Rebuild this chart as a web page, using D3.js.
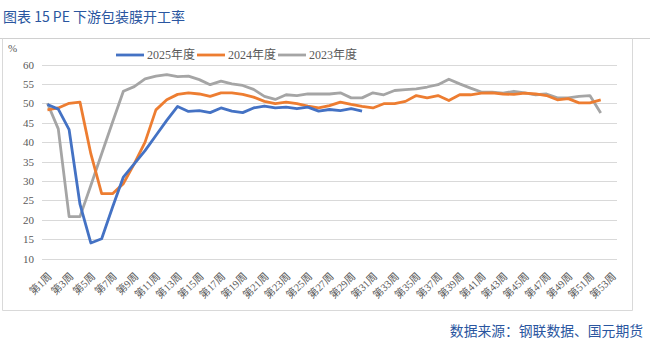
<!DOCTYPE html>
<html><head><meta charset="utf-8">
<script src="https://cdn.jsdelivr.net/npm/d3@7"></script>
<style>
body{margin:0;background:#fff;}
svg{display:block;}
</style></head>
<body>
<svg id="chart" width="650" height="342"></svg>
<script>
const weeks = d3.range(1, 54).map(i => "第" + i + "周");
const seriesNames = ["2025年度", "2024年度", "2023年度"];
const colors = ["#4472C4", "#ED7D31", "#A5A5A5"];
const yTicks = [10, 15, 20, 25, 30, 35, 40, 45, 50, 55, 60];

const v2025 = [49.7, 48.5, 43.2, 24.0, 14.0, 15.1, 23.2, 31.0, 34.4, 37.8, 41.7, 45.6, 49.2, 47.9, 48.1,
  47.6, 48.8, 48.0, 47.6, 48.8, 49.3, 48.8, 49.0, 48.6, 49.0, 48.0, 48.4, 48.1, 48.6, 48.0];
const v2024 = [48.3, 48.8, 50.0, 50.3, 37.0, 26.7, 26.7, 29.3, 34.4, 40.0, 48.3, 50.9, 52.3, 52.7, 52.4,
  51.8, 52.7, 52.7, 52.3, 51.6, 50.5, 49.9, 50.3, 49.9, 49.3, 48.8, 49.4, 50.3, 49.7, 49.2,
  48.8, 49.9, 49.9, 50.5, 52.0, 51.4, 52.0, 50.7, 52.2, 52.2, 52.6, 52.7, 52.4, 52.3, 52.6,
  52.4, 52.0, 50.9, 51.2, 50.1, 50.1, 50.9];
const v2023 = [50.0, 43.4, 20.8, 20.8, 28.8, 37.0, 45.1, 53.1, 54.3, 56.3, 57.0, 57.4, 56.9, 57.0, 56.1,
  54.8, 55.7, 55.0, 54.6, 53.6, 51.8, 51.0, 52.2, 52.0, 52.4, 52.4, 52.4, 52.7, 51.4, 51.4,
  52.7, 52.2, 53.3, 53.5, 53.7, 54.2, 54.8, 56.2, 55.0, 53.9, 52.9, 52.9, 52.6, 53.1, 52.7,
  52.2, 52.4, 51.4, 51.4, 51.8, 52.0, 47.5];
const allSeries = [v2025, v2024, v2023];

const svg = d3.select("#chart");
const serif = "'Times New Roman','Liberation Serif','Noto Sans CJK SC',serif";

// title
svg.append("text").attr("x", 3).attr("y", 22).attr("fill", "#2A56A0")
  .style("font-family", "'Noto Sans CJK SC',sans-serif").style("font-size", "14px")
  .text("图表 15  PE 下游包装膜开工率");
svg.append("line").attr("x1", 0).attr("x2", 650).attr("y1", 38.5).attr("y2", 38.5)
  .attr("stroke", "#d0d0d0").attr("stroke-width", 1);
// frame
svg.append("path").attr("d", "M2.5,38.5 V310.5 H632.5 V38.5")
  .attr("fill", "none").attr("stroke", "#d9d9d9").attr("stroke-width", 1);

const x = d3.scaleBand().domain(weeks).range([42, 617]);
const y = d3.scaleLinear().domain([10, 60]).range([258.5, 64.5]);

// grid
svg.append("g").selectAll("line").data(yTicks).join("line")
  .attr("x1", 42).attr("x2", 617)
  .attr("y1", d => Math.round(y(d)) + 0.5).attr("y2", d => Math.round(y(d)) + 0.5)
  .attr("stroke", "#d9d9d9").attr("stroke-width", 1);

// y axis labels
const yAxis = d3.axisLeft(y).tickValues(yTicks).tickSize(0).tickPadding(0);
const gy = svg.append("g").attr("transform", "translate(34,0)").call(yAxis);
gy.select(".domain").remove();
gy.selectAll("text").attr("fill", "#595959").style("font-family", serif).style("font-size", "11px");
svg.append("text").attr("x", 8).attr("y", 52).attr("fill", "#595959")
  .style("font-family", serif).style("font-size", "11px").text("%");

// x axis labels
const xAxis = d3.axisBottom(x).tickValues(weeks.filter((d, i) => i % 2 === 0)).tickSize(0).tickPadding(0);
const gx = svg.append("g").attr("transform", "translate(0,258)").call(xAxis);
gx.select(".domain").remove();
gx.selectAll("text")
  .attr("text-anchor", "end").attr("dy", null)
  .attr("transform", "translate(5,19) rotate(-45)")
  .attr("fill", "#595959").style("font-family", serif).style("font-size", "10.5px");

// lines
const line = d3.line().x((d, i) => x(weeks[i]) + x.bandwidth() / 2).y(d => y(d));
[2, 1, 0].forEach(k => {
  svg.append("path").datum(allSeries[k]).attr("d", line)
    .attr("fill", "none").attr("stroke", colors[k]).attr("stroke-width", 2.8)
    .attr("stroke-linejoin", "round");
});

// legend
const legendX = [116, 197, 278];
const lg = svg.append("g");
seriesNames.forEach((n, k) => {
  lg.append("line").attr("x1", legendX[k]).attr("x2", legendX[k] + 28)
    .attr("y1", 55).attr("y2", 55).attr("stroke", colors[k]).attr("stroke-width", 2.8);
  lg.append("text").attr("x", legendX[k] + 31).attr("y", 59).attr("fill", "#595959")
    .style("font-family", serif).style("font-size", "12px").text(n);
});

// source
svg.append("text").attr("x", 643).attr("y", 336).attr("text-anchor", "end").attr("fill", "#2A56A0")
  .style("font-family", "'Noto Sans CJK SC',sans-serif").style("font-size", "13.8px")
  .text("数据来源：钢联数据、国元期货");
</script>
</body></html>
